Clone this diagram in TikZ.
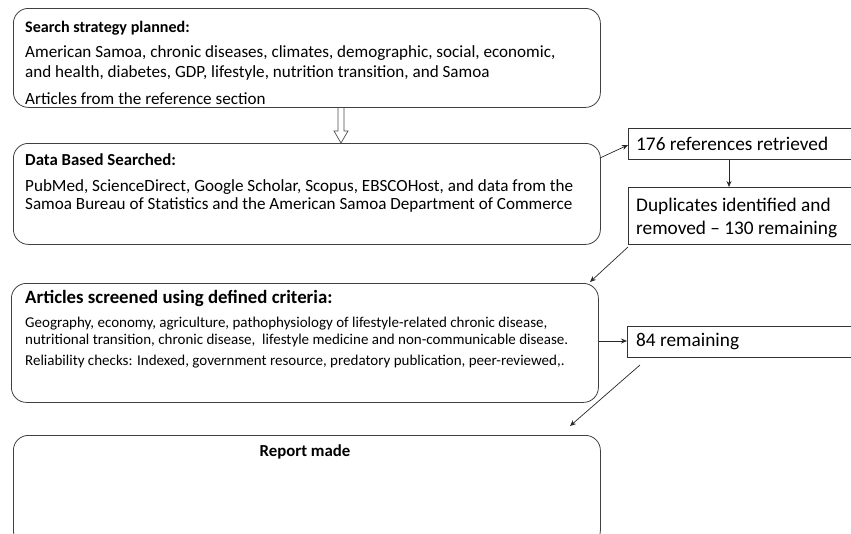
\documentclass[tikz,border=0pt]{standalone}
\usepackage{fontspec}
\setmainfont{Carlito}
\usetikzlibrary{arrows.meta,calc}
\begin{document}
\begin{tikzpicture}[x=1pt,y=-1pt,
  rbox/.style={draw=black!75,line width=0.8pt,rounded corners=15pt,anchor=north west,inner sep=0pt},
  sbox/.style={draw=black!80,line width=0.8pt,anchor=north west,inner sep=0pt},
  txt/.style={anchor=west,inner sep=0pt,align=left},
  ttl/.style={txt,font=\fontsize{16.8}{19}\selectfont\bfseries},
  body/.style={txt,font=\fontsize{17.1}{20}\selectfont},
  small/.style={txt,font=\fontsize{15}{16.5}\selectfont},
  big/.style={txt,font=\fontsize{19.3}{23}\selectfont},
  arr/.style={draw=black!85,line width=0.7pt,-{Stealth[length=6pt,width=5pt]}}]
\useasboundingbox (0,0) rectangle (851,533);
% left boxes
\node[rbox,minimum width=587pt,minimum height=99pt] (b1) at (13,8) {};
\node[rbox,minimum width=587pt,minimum height=101pt] (b2) at (13,143) {};
\node[rbox,minimum width=587pt,minimum height=119pt] (b3) at (11,283) {};
\node[rbox,minimum width=587pt,minimum height=110pt] (b4) at (13,435) {};
% right boxes
\node[sbox,minimum width=240pt,minimum height=31pt] (r1) at (628,128) {};
\node[sbox,minimum width=240pt,minimum height=57pt] (r2) at (628,187) {};
\node[sbox,minimum width=240pt,minimum height=31pt] (r3) at (627,326) {};
% texts
\node[ttl,font=\fontsize{16.1}{19}\selectfont\bfseries] (t1) at (25,28) {Search strategy planned:};
\node[body] (t1a) at (25,63) {American Samoa, chronic diseases, climates, demographic, social, economic,\\and health, diabetes, GDP, lifestyle, nutrition transition, and Samoa};
\node[body] (t1b) at (25,99) {Articles from the reference\ section};
\node[ttl] (t2) at (25,160) {Data Based Searched:};
\node[body,font=\fontsize{17.1}{18.5}\selectfont] (t2a) at (25,196) {PubMed, ScienceDirect, Google Scholar, Scopus, EBSCOHost, and data from the\\Samoa Bureau of Statistics and the American Samoa Department of Commerce};
\node[ttl,font=\fontsize{18.8}{21}\selectfont\bfseries] (t3) at (25,298) {Articles screened using defined criteria:};
\node[small] (t3a) at (25,332) {Geography, economy, agriculture, pathophysiology of lifestyle-related chronic disease,\\nutritional transition, chronic disease,\ \ lifestyle medicine and non-communicable disease.};
\node[small] (t3b) at (25,362) {Reliability\ checks: Indexed, government resource, predatory publication, peer-reviewed,.};
\node[ttl,anchor=center] (t4) at (305,452) {Report made};
\node[big] (tr1) at (636,144) {176 references retrieved};
\node[big] (tr2) at (636,218) {Duplicates identified and\\removed -- 130 remaining};
\node[big] (tr3) at (636,342) {84 remaining};
% hollow down arrow
\draw[draw=black!70,line width=0.7pt,fill=white] (338,108) -- (338,131) -- (334,131) -- (341,143) -- (348,131) -- (344,131) -- (344,108);
% connectors
\coordinate (c1) at (600,158);
\draw[arr] (c1) -- (r1.west |- 0,145);
\draw[arr] (r1.south -| 729,0) -- (r2.north -| 729,0);
\coordinate (c2) at (628,247);
\coordinate (c3) at (590,282);
\draw[arr] (c2) -- (c3);
\draw[arr] (b3.east |- 0,341) -- (r3.west |- 0,341);
\coordinate (c4) at (640,365);
\coordinate (c5) at (570,426);
\draw[arr] (c4) -- (c5);
\end{tikzpicture}
\end{document}
